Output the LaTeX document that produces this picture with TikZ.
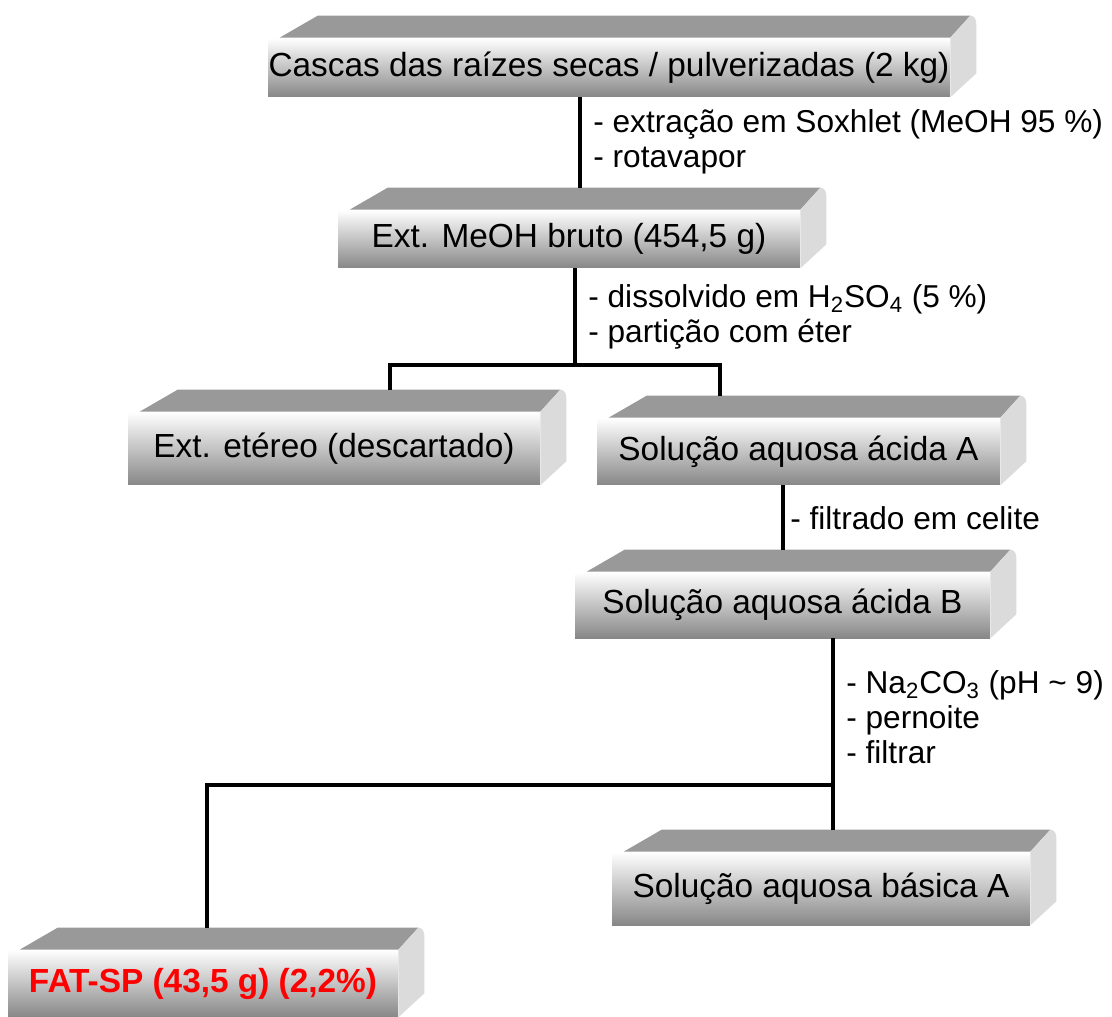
\documentclass[tikz,border=0pt]{standalone}
\usepackage{fontspec}
\setmainfont{Liberation Sans}
\usetikzlibrary{calc}
\definecolor{slabtop}{gray}{0.6}
\definecolor{slabside}{gray}{0.86}
\definecolor{slabbottom}{gray}{0.53}
\definecolor{fatred}{rgb}{1, 0, 0}

\begin{document}
\begin{tikzpicture}[x=0.02cm, y=-0.02cm,
    slab/.style={rectangle, inner sep=0pt, top color=white, bottom color=slabbottom,
                 font=\fontsize{19}{22}\selectfont},
    note/.style={anchor=west, align=left, inner sep=0pt, font=\fontsize{18}{19.8}\selectfont},
    link/.style={line width=2pt}]
        \useasboundingbox (0,0) rectangle (1112,1017);

        % front faces of the slabs
        \node [slab, minimum width=13.64cm, minimum height=1.18cm] (cascas) at (609, 67.5) {Cascas das raízes secas / pulverizadas (2 kg)};
        \node [slab, minimum width=9.24cm, minimum height=1.16cm] (bruto) at (569, 239) {Ext. MeOH bruto (454,5 g)};
        \node [slab, minimum width=8.24cm, minimum height=1.46cm] (etereo) at (334, 448.5) {Ext. etéreo (descartado)};
        \node [slab, minimum width=8.06cm, minimum height=1.34cm] (acidaA) at (798.5, 451.5) {Solução aquosa ácida A};
        \node [slab, minimum width=8.3cm, minimum height=1.32cm] (acidaB) at (782.5, 605) {Solução aquosa ácida B};
        \node [slab, minimum width=8.36cm, minimum height=1.46cm] (basicaA) at (821, 888.5) {Solução aquosa básica A};
        \node [slab, minimum width=7.8cm, minimum height=1.34cm, font=\fontsize{19}{22}\selectfont\bfseries, text=fatred] (fatsp) at (203, 983.5) {FAT-SP (43,5 g) (2,2\%)};

        % top and right faces
        \foreach \n in {cascas, bruto, etereo, acidaA, acidaB, basicaA, fatsp} {
            \fill [slabtop] ($(\n.north west)+(12,0)$) -- ($(\n.north west)+(50,-22)$)
                -- ($(\n.north east)+(20,-22)$) -- ($(\n.north east)+(0,0)$) -- cycle;
            \fill [slabside] (\n.north east) -- ($(\n.north east)+(20,-22)$)
                to [out=0, in=90] ($(\n.north east)+(26,-14)$)
                -- ($(\n.south east)+(26,-24)$) -- (\n.south east) -- cycle;
            \coordinate (\n top) at ($(\n.north)+(0,-22)$);
        }

        % connectors
        \coordinate (c1) at (580, 0);
        \draw [link] (cascas.south -| c1) -- (c1 |- brutotop);

        \coordinate (split1) at (575, 365);
        \coordinate (l1) at (390, 365);
        \coordinate (r1) at (720, 365);
        \draw [link] (bruto.south -| split1) -- (split1);
        \draw [link] (etereotop -| l1) -- (l1) -- (r1) -- (acidaAtop -| r1);

        \coordinate (c3) at (783, 0);
        \draw [link] (acidaA.south -| c3) -- (c3 |- acidaBtop);

        \coordinate (split2) at (833, 785);
        \coordinate (l2) at (207, 785);
        \draw [link] (acidaB.south -| split2) -- (basicaAtop -| split2);
        \draw [link] (split2) -- (l2) -- (fatsptop -| l2);

        % step notes
        \node [note] (n1) at (593, 142) {- extração em Soxhlet (MeOH 95 \%)\\- rotavapor};
        \node [note] (n2) at (588, 317) {- dissolvido em H\textsubscript{2}SO\textsubscript{4} (5 \%)\\- partição com éter};
        \node [note] (n3) at (790, 518) {- filtrado em celite};
        \node [note] (n4) at (846, 717) {- Na\textsubscript{2}CO\textsubscript{3} (pH \textasciitilde{} 9)\\- pernoite\\- filtrar};
    \end{tikzpicture}
\end{document}
